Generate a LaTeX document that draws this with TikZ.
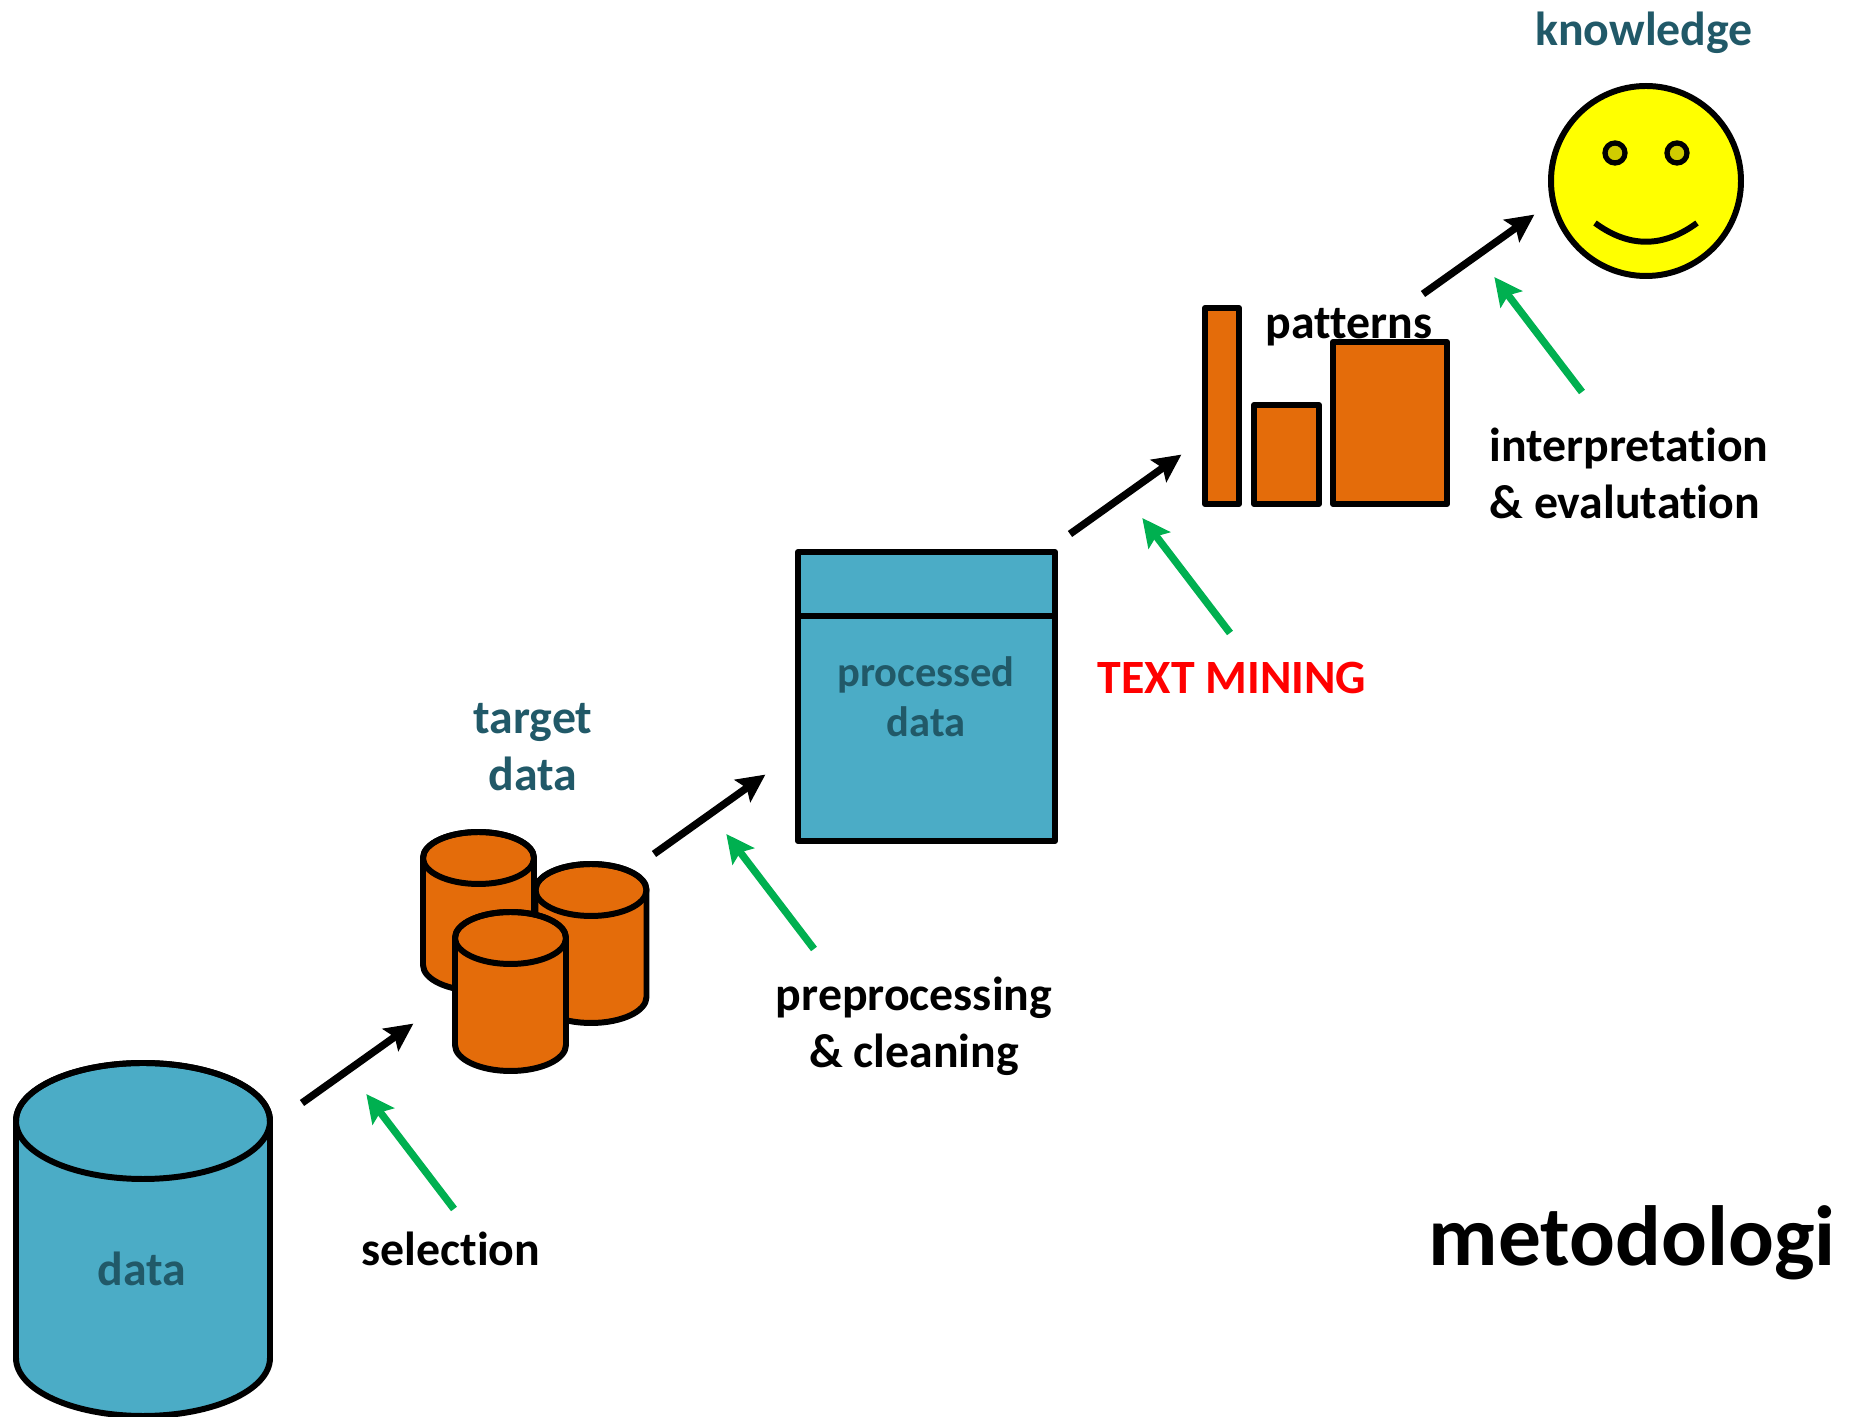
\documentclass[tikz,border=0pt]{standalone}
\usepackage{fontspec}
\setmainfont{Carlito}[Ligatures=NoCommon]
\usepackage{tikz}
\usetikzlibrary{arrows.meta,positioning,calc}
\definecolor{dbblue}{RGB}{75,172,198}
\definecolor{dborange}{RGB}{228,108,10}
\definecolor{labelteal}{RGB}{33,89,104}
\definecolor{hintgreen}{RGB}{0,176,80}
\definecolor{faceyellow}{RGB}{255,255,0}
\definecolor{eyeyellow}{RGB}{208,204,0}
\tikzset{
  txt/.style={font=\bfseries\fontsize{13.6}{16.2}\selectfont,align=center,inner sep=0pt},
  tealtxt/.style={txt,text=labelteal},
  cylline/.style={draw=black,line width=1.7pt,line join=round},
  boxy/.style={rectangle,draw=black,line width=1.7pt,inner sep=0pt,outer sep=0pt,line join=round},
  barbox/.style={boxy,fill=dborange,anchor=south},
  stepline/.style={-{Stealth[length=0.28cm,width=0.27cm,inset=0.05cm]},line width=2.1pt,black},
  hintline/.style={stepline,hintgreen}
}
% drum: x, y of the top centre, x radius, y radius, body height, colour
\newcommand{\drum}[6]{
  \draw[cylline,fill=#6] (#1-#3,#2) -- ++(0,-#5) arc[start angle=180,end angle=360,x radius=#3,y radius=#4] -- ++(0,#5) arc[start angle=0,end angle=180,x radius=#3,y radius=#4] -- cycle;
  \draw[cylline] (#1,#2) ellipse[x radius=#3,y radius=#4];
}
\begin{document}
\begin{tikzpicture}
        \useasboundingbox (0,0) rectangle (18.58,14.17);

        % data
        \drum{1.43}{2.96}{1.27}{0.58}{2.37}{dbblue}
        \node[tealtxt] (datatxt) at (1.42,1.48) {data};

        % target data
        \drum{4.785}{5.59}{0.555}{0.26}{1.07}{dborange}
        \drum{5.91}{5.27}{0.555}{0.26}{1.07}{dborange}
        \drum{5.105}{4.79}{0.555}{0.26}{1.07}{dborange}
        \node[tealtxt] (targettxt) at (5.33,6.70) {target\\data};

        % processed data
        \node[boxy,fill=dbblue,minimum width=2.57cm,minimum height=0.64cm] (prochead) at (9.265,8.33) {};
        \node[boxy,fill=dbblue,minimum width=2.57cm,minimum height=2.25cm,below=0cm of prochead] (procbody) {};
        \node[tealtxt,font=\bfseries\fontsize{12.1}{14.2}\selectfont] (proctxt) at (9.26,7.2) {processed\\data};

        % patterns
        \node[barbox,minimum width=0.34cm,minimum height=1.96cm] (bara) at (12.22,9.13) {};
        \node[barbox,minimum width=0.65cm,minimum height=0.99cm] (barb) at (12.865,9.13) {};
        \node[barbox,minimum width=1.14cm,minimum height=1.62cm] (barc) at (13.9,9.13) {};
        \node[txt] (patterntxt) at (13.49,10.90) {patterns};

        % knowledge
        \node[circle,draw=black,line width=1.7pt,fill=faceyellow,inner sep=0pt,outer sep=0pt,minimum size=1.9cm] (face) at (16.46,12.36) {};
        \node[circle,draw=black,line width=1.5pt,fill=eyeyellow,inner sep=0pt,minimum size=0.2cm] (eyel) at (16.15,12.64) {};
        \node[circle,draw=black,line width=1.5pt,fill=eyeyellow,inner sep=0pt,minimum size=0.2cm] (eyer) at (16.77,12.64) {};
        \coordinate (smilel) at (15.95,11.94);
        \coordinate (smiler) at (16.97,11.94);
        \draw[line width=1.7pt] (smilel) .. controls (16.29,11.69) and (16.63,11.69) .. (smiler);
        \node[tealtxt] (knowtxt) at (16.44,13.84) {knowledge};

        % step labels
        \node[txt] (seltxt) at (4.51,1.68) {selection};
        \node[txt] (pretxt) at (9.14,3.91) {preprocessing\\\& cleaning};
        \node[txt,text=red] (minetxt) at (12.32,7.39) {TEXT MINING};
        \node[txt,align=left] (interptxt) at (16.29,9.44) {interpretation\\\& evalutation};
        \node[txt,font=\bfseries\fontsize{24.3}{28}\selectfont] (metotxt) at (16.32,1.74) {metodologi};

        % arrows
        \foreach \n/\x/\y in {sel/3.02/3.14,pre/6.54/5.63,mine/10.70/8.83,interp/14.23/11.23}{
          \coordinate (\n a) at (\x,\y);
          \coordinate (\n b) at ($(\n a)+(1.114,0.794)$);
          \draw[stepline] (\n a) -- (\n b);
        }
        \foreach \n/\x/\y in {sel/4.54/2.08,pre/8.14/4.68,mine/12.30/7.84,interp/15.82/10.25}{
          \coordinate (\n c) at (\x,\y);
          \coordinate (\n d) at ($(\n c)+(-0.877,1.15)$);
          \draw[hintline] (\n c) -- (\n d);
        }
    \end{tikzpicture}
\end{document}
